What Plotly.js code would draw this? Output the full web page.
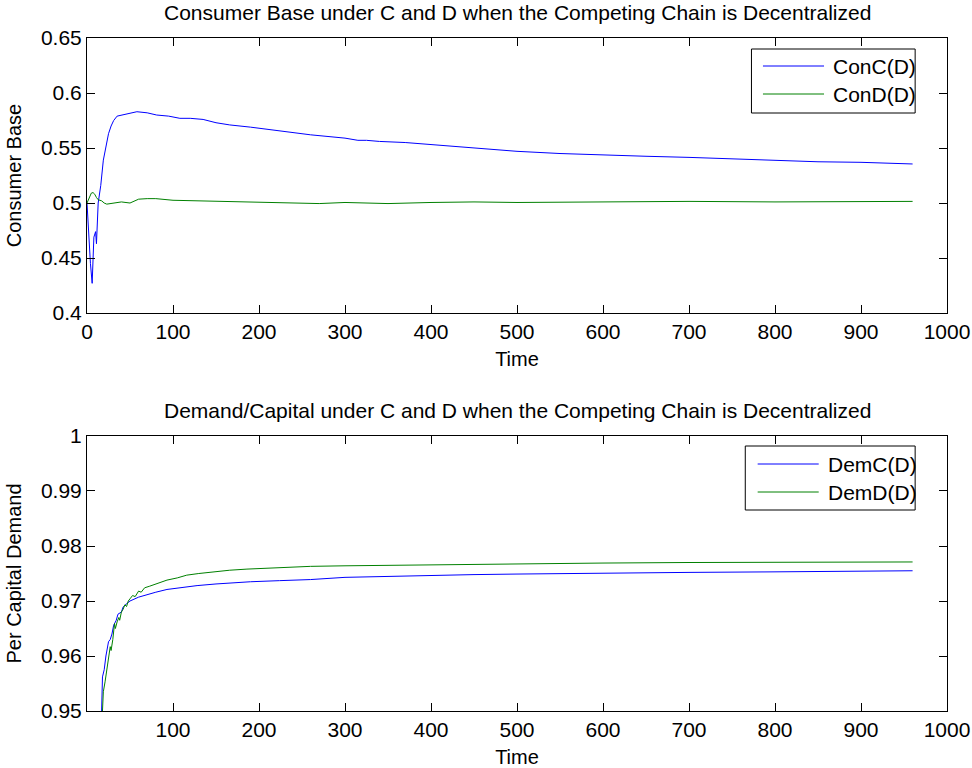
<!DOCTYPE html>
<html>
<head>
<meta charset="utf-8">
<script src="https://cdn.plot.ly/plotly-3.0.1.min.js"></script>
<style>html,body{margin:0;padding:0;background:#fff;}#chart{width:972px;height:768px;}</style>
</head>
<body>
<div id="chart"></div>
<script>
// ---- Top panel: Consumer Base ----
const conC_t = [0,2,4,6,8,10,11,13,16,19,22,25,28,31,35,40,48,58,70,81,95,108,120,135,150,166,190,227,260,300,315,325,340,370,400,450,500,550,600,650,700,750,800,850,900,960];
const conC_v = [0.500,0.470,0.445,0.427,0.469,0.474,0.463,0.500,0.516,0.539,0.551,0.563,0.570,0.575,0.579,0.580,0.581,0.583,0.582,0.580,0.579,0.577,0.577,0.576,0.573,0.571,0.569,0.5655,0.562,0.559,0.557,0.557,0.556,0.555,0.553,0.550,0.547,0.545,0.5435,0.5425,0.5415,0.540,0.539,0.5375,0.537,0.5355];
const conD_t = [0,3,5,7,9,11,13,17,20,23,27,31,40,50,55,60,70,80,100,130,160,200,250,270,300,350,400,450,500,600,700,800,900,960];
const conD_v = [0.500,0.506,0.509,0.5095,0.508,0.505,0.503,0.502,0.500,0.499,0.4995,0.5005,0.501,0.500,0.502,0.5035,0.504,0.504,0.5025,0.502,0.5015,0.501,0.500,0.4995,0.5005,0.4995,0.5005,0.501,0.5005,0.501,0.5015,0.501,0.5015,0.5015];

// ---- Bottom panel: Per Capital Demand ----
const demC_t = [17,18,20,22,25,27,29,31,34,36,40,42,46,50,60,70,80,93,110,128,150,166,190,224,260,300,350,400,450,500,600,700,800,900,960];
const demC_v = [0.950,0.9562,0.9575,0.960,0.9626,0.963,0.964,0.9656,0.9665,0.9676,0.968,0.9689,0.9695,0.970,0.9707,0.9712,0.9716,0.9721,0.9725,0.9728,0.9731,0.9733,0.9735,0.9737,0.9739,0.9743,0.9745,0.9746,0.9748,0.9749,0.9751,0.9752,0.9753,0.9754,0.9755];
const demD_t = [18,19,21,23,25,27,28,30,32,33,35,37,38,40,42,44,46,48,50,53,56,60,63,67,73,80,93,105,116,130,147,166,186,224,260,300,400,500,600,700,800,900,960];
const demD_v = [0.950,0.9535,0.9553,0.9577,0.960,0.9617,0.9610,0.963,0.9659,0.9650,0.9662,0.9670,0.9665,0.968,0.9685,0.9693,0.9690,0.9700,0.9704,0.9710,0.9708,0.9718,0.9716,0.9724,0.9727,0.9731,0.9738,0.9742,0.9747,0.9750,0.9753,0.9756,0.9758,0.9761,0.9763,0.9764,0.9766,0.9768,0.9769,0.9770,0.9770,0.9771,0.9771];

const topX_ticks = [0,100,200,300,400,500,600,700,800,900,1000];
const botX_ticks = [100,200,300,400,500,600,700,800,900,1000];
const topY_ticks = [0.4,0.45,0.5,0.55,0.6,0.65];
const topY_text = ['0.4','0.45','0.5','0.55','0.6','0.65'];
const botY_ticks = [0.95,0.96,0.97,0.98,0.99,1];
const botY_text = ['0.95','0.96','0.97','0.98','0.99','1'];

const names = ['ConC(D)','ConD(D)','DemC(D)','DemD(D)'];
const titles = ['Consumer Base under C and D when the Competing Chain is Decentralized',
                'Demand/Capital under C and D when the Competing Chain is Decentralized'];

const BLUE = 'rgb(0,0,255)', GREEN = 'rgb(0,128,0)';
const colors = [BLUE, GREEN, BLUE, GREEN];
const FONT = 'Liberation Sans, Arial, Helvetica, sans-serif';
const W = 972, H = 768;

const traces = [
  {x: conC_t, y: conC_v, name: names[0], type:'scatter', mode:'lines', line:{color:colors[0],width:1}, xaxis:'x', yaxis:'y'},
  {x: conD_t, y: conD_v, name: names[1], type:'scatter', mode:'lines', line:{color:colors[1],width:1}, xaxis:'x', yaxis:'y'},
  {x: demC_t, y: demC_v, name: names[2], type:'scatter', mode:'lines', line:{color:colors[2],width:1}, xaxis:'x2', yaxis:'y2'},
  {x: demD_t, y: demD_v, name: names[3], type:'scatter', mode:'lines', line:{color:colors[3],width:1}, xaxis:'x2', yaxis:'y2'}
];

function xax(anchor, ticks){
  return {anchor: anchor, domain:[0,1], range:[0,1000], tickvals: ticks, ticktext: ticks.map(String),
    ticks:'inside', ticklen:8, tickcolor:'#000', showline:true, linecolor:'#000', linewidth:1, mirror:'allticks',
    showgrid:false, zeroline:false, tickfont:{family:FONT,size:21,color:'#000'},
    title:{text:'Time', font:{family:FONT,size:20,color:'#000'}, standoff:9}};
}
function yax(anchor, dom, range, ticks, text, title){
  return {anchor: anchor, domain: dom, range: range, tickvals: ticks, ticktext: text,
    ticks:'inside', ticklen:8, tickcolor:'#000', showline:true, linecolor:'#000', linewidth:1, mirror:'allticks',
    showgrid:false, zeroline:false, tickfont:{family:FONT,size:21,color:'#000'},
    title:{text:title, font:{family:FONT,size:20,color:'#000'}, standoff:13}};
}

// manual legends (pixel boxes converted to paper coords)
const px = v => v / W, py = v => 1 - v / H;
const legends = [
  {box:[751,49,936,113], lineX:[764,833], textX:841, rows:[66,94], items:[0,1]},
  {box:[744,446,936,510], lineX:[758,827], textX:835, rows:[464,492], items:[2,3]}
];
const shapes = [], annotations = [];
legends.forEach(L => {
  shapes.push({type:'rect', xref:'paper', yref:'paper', x0:px(L.box[0]), x1:px(L.box[2]), y0:py(L.box[3]), y1:py(L.box[1]),
    line:{color:'#000', width:1}, fillcolor:'#fff', layer:'above'});
  L.items.forEach((k, i) => {
    shapes.push({type:'line', xref:'paper', yref:'paper', x0:px(L.lineX[0]), x1:px(L.lineX[1]), y0:py(L.rows[i]), y1:py(L.rows[i]),
      line:{color:colors[k], width:1}, layer:'above'});
    annotations.push({text:names[k], xref:'paper', yref:'paper', x:px(L.textX), y:py(L.rows[i]), xanchor:'left', yanchor:'middle',
      showarrow:false, font:{family:FONT,size:21,color:'#000'}});
  });
});
annotations.push(
  {text: titles[0], xref:'paper', yref:'paper', x:0.5, y:py(12), xanchor:'center', yanchor:'middle', showarrow:false,
   font:{family:FONT,size:21,color:'#000'}},
  {text: titles[1], xref:'paper', yref:'paper', x:0.5, y:py(410), xanchor:'center', yanchor:'middle', showarrow:false,
   font:{family:FONT,size:21,color:'#000'}}
);

const layout = {
  width:W, height:H,
  margin:{l:87, r:25, t:0, b:0},
  paper_bgcolor:'#fff', plot_bgcolor:'#fff',
  font:{family:FONT, color:'#000'},
  showlegend:false,
  xaxis: xax('y', topX_ticks),
  yaxis: yax('x', [0.5924,0.9505], [0.4,0.65], topY_ticks, topY_text, 'Consumer Base'),
  xaxis2: xax('y2', botX_ticks),
  yaxis2: yax('x2', [0.0742,0.4323], [0.95,1], botY_ticks, botY_text, 'Per Capital Demand'),
  shapes: shapes,
  annotations: annotations
};

Plotly.newPlot('chart', traces, layout, {staticPlot:true, displayModeBar:false});
</script>
</body>
</html>
